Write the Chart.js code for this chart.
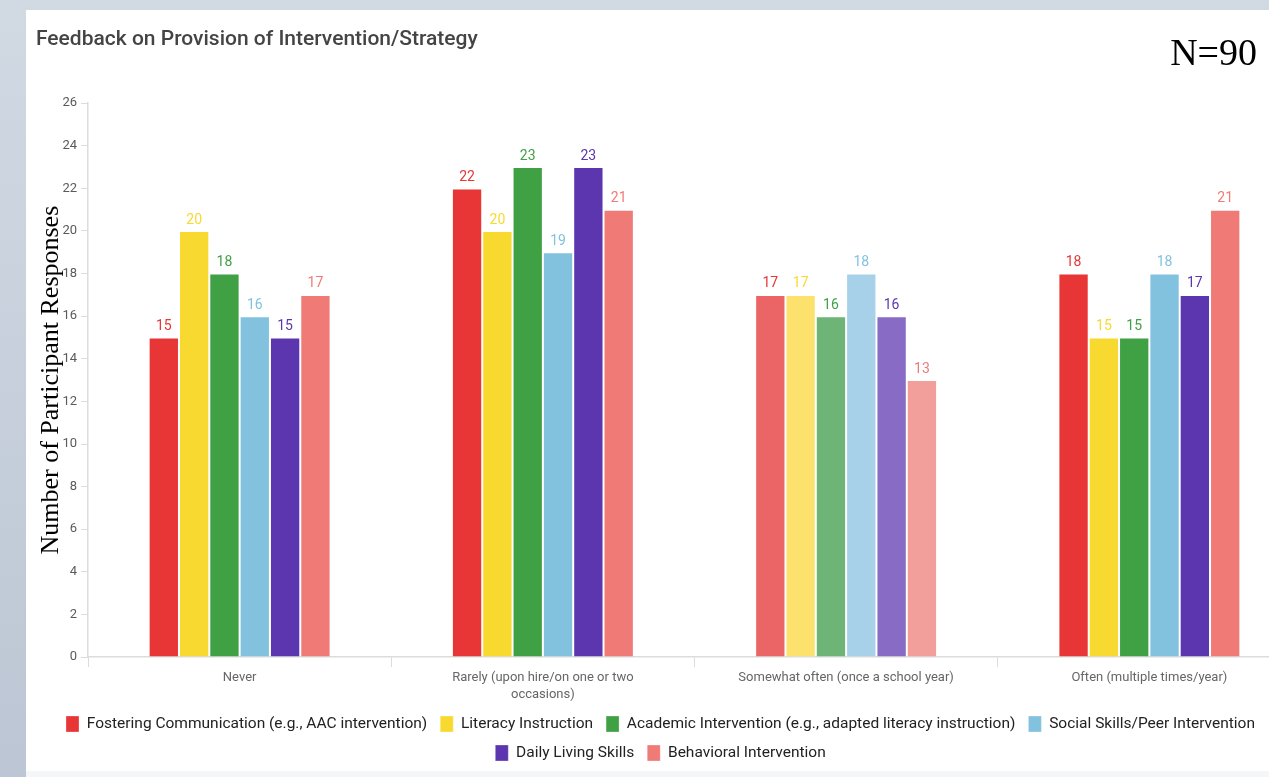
<!DOCTYPE html>
<html>
<head>
<meta charset="utf-8">
<script src="https://cdn.jsdelivr.net/npm/chart.js@4/dist/chart.umd.min.js"></script>
<style>
  html, body { margin: 0; padding: 0; }
  body {
    width: 1269px; height: 777px; overflow: hidden; position: relative;
    background: linear-gradient(#d1d9e3, #bcc6d4);
  }
  #panel {
    position: absolute; left: 26px; top: 10px; width: 1300px; height: 761px;
    background: #fff; overflow: hidden;
  }
  #foot {
    position: absolute; left: 26px; top: 771px; width: 1300px; height: 10px;
    background: #f5f6f7;
  }
  #n {
    position: absolute; right: 12px; top: 33px; line-height: 38px;
    font-family: "Liberation Serif", "DejaVu Serif", serif; font-size: 38px; color: #000;
  }
  canvas { position: absolute; left: 0; top: 0; }
</style>
</head>
<body>
<div id="panel">
  <canvas id="feedbackChart" width="1280" height="761"></canvas>
</div>
<div id="foot"></div>
<div id="n">N=90</div>
<script>
// ================================================================
// Feedback on provision - grouped bars
// ================================================================
const categories = [
  'Never',
  ['Rarely (upon hire/on one or two', 'occasions)'],
  'Somewhat often (once a school year)',
  'Often (multiple times/year)'
];

const seriesNames = [
  'Fostering Communication (e.g., AAC intervention)',
  'Literacy Instruction',
  'Academic Intervention (e.g., adapted literacy instruction)',
  'Social Skills/Peer Intervention',
  'Daily Living Skills',
  'Behavioral Intervention'
];

const fostering = [15, 22, 17, 18];
const literacy = [20, 20, 17, 15];
const academic = [18, 23, 16, 15];
const socialSkills = [16, 19, 18, 18];
const dailyLiving = [15, 23, 16, 17];
const behavioral = [17, 21, 13, 21];

const yMax = 26;
const yStep = 2;

// base colours, and the washed-out ones used on the third group
const baseColors = ['#e83535', '#f8d92f', '#40a044', '#82c2df', '#5b36ae', '#ef7a76'];
const lightColors = ['#ec6566', '#fce16c', '#6db476', '#a6d1e8', '#876bc4', '#f29e9b'];
const fadedGroup = 2;

const uiFont = 'Roboto, "Noto Sans", sans-serif';

const seriesValues = [fostering, literacy, academic, socialSkills, dailyLiving, behavioral];

const datasets = seriesValues.map((values, i) => {
  return {
    label: seriesNames[i],
    data: values,
    backgroundColor: values.map((v, j) => j === fadedGroup ? lightColors[i] : baseColors[i]),
    borderColor: 'rgba(255,255,255,0.3)',
    borderWidth: 1,
    labelColor: baseColors[i]
  };
});

// value printed above each bar, same colour as its series
const barValues = {
  id: 'barValues',
  afterDatasetsDraw(chart) {
    const ctx = chart.ctx;
    ctx.save();
    ctx.font = '14px ' + uiFont;
    ctx.textAlign = 'center';
    ctx.textBaseline = 'bottom';
    chart.data.datasets.forEach((ds, i) => {
      const meta = chart.getDatasetMeta(i);
      meta.data.forEach((bar, j) => {
        ctx.fillStyle = ds.labelColor;
        ctx.fillText(ds.data[j], bar.x, bar.y - 4);
      });
    });
    ctx.restore();
  }
};

// the plot runs past the right edge, so pull the legend back a little
const legendShift = {
  id: 'legendShift',
  beforeDraw(chart) {
    if (chart.legend && !chart.legend._shifted) {
      chart.legend.left -= 8;
      chart.legend.right -= 8;
      chart.legend._shifted = true;
    }
  }
};

new Chart(document.getElementById('feedbackChart'), {
  type: 'bar',
  data: { labels: categories, datasets },
  plugins: [barValues, legendShift],
  options: {
    responsive: false,
    devicePixelRatio: 1,
    animation: false,
    layout: { padding: { left: 10, right: 5, top: 0, bottom: 0 } },
    datasets: { bar: { categoryPercentage: 0.6, barPercentage: 1 } },
    plugins: {
      title: {
        display: true,
        text: 'Feedback on Provision of Intervention/Strategy',
        align: 'start',
        color: '#444',
        font: { family: uiFont, size: 21, weight: '500' },
        padding: { top: 17, bottom: 51 }
      },
      legend: {
        position: 'bottom',
        labels: {
          boxWidth: 13,
          boxHeight: 16,
          padding: 13,
          color: '#222',
          font: { family: uiFont, size: 15.5 }
        }
      },
      tooltip: { enabled: false }
    },
    scales: {
      x: {
        grid: { drawOnChartArea: false, tickLength: 10, color: '#dcdcdc' },
        border: { color: '#dcdcdc', width: 1.5 },
        ticks: {
          color: '#666',
          padding: 2,
          maxRotation: 0,
          font: { family: uiFont, size: 13, lineHeight: 1.3 }
        },
        afterFit(scale) { scale.height = 46; }
      },
      y: {
        min: 0,
        max: yMax,
        grid: { drawOnChartArea: false, tickLength: 7, color: '#dcdcdc' },
        border: { color: '#dcdcdc', width: 1.5 },
        ticks: {
          stepSize: yStep,
          color: '#5a5a5a',
          padding: 4,
          font: { family: uiFont, size: 13 }
        },
        title: {
          display: true,
          text: 'Number of Participant Responses',
          color: '#000',
          padding: { top: 0, bottom: 0 },
          font: { family: '"Liberation Serif", "DejaVu Serif", serif', size: 26 }
        },
        afterFit(scale) { scale.width = 52; }
      }
    }
  }
});
</script>
</body>
</html>
